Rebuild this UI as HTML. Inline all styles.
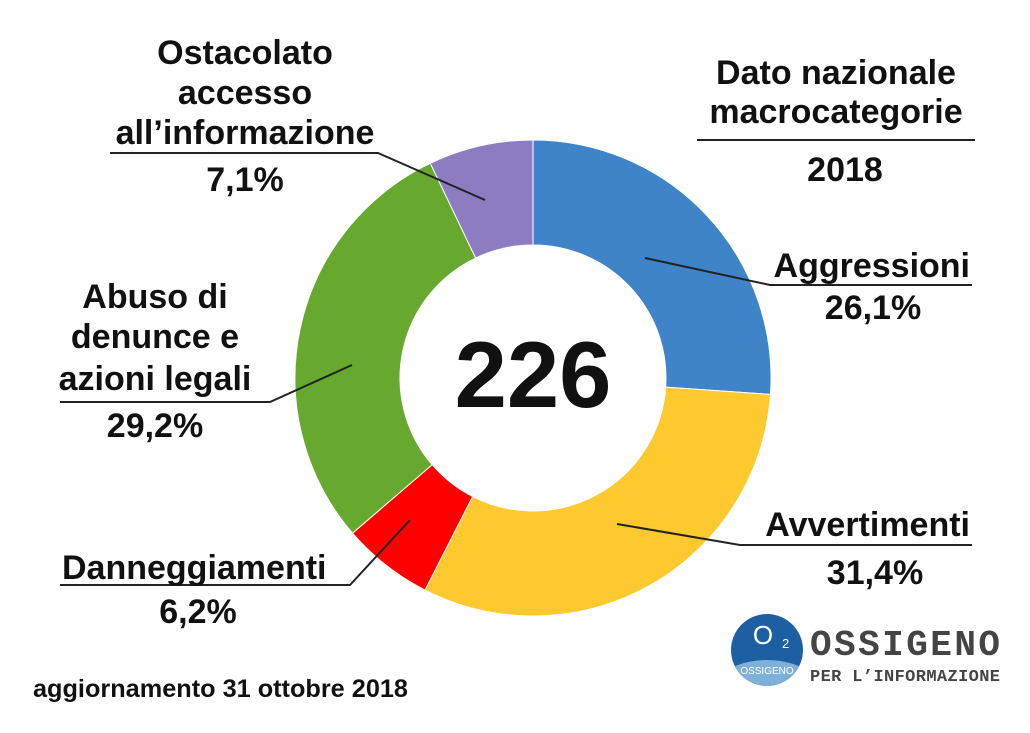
<!DOCTYPE html>
<html><head><meta charset="utf-8"><style>
html,body{margin:0;padding:0;background:#fff;}
svg text{font-family:"Liberation Sans",sans-serif;font-weight:bold;fill:#111;}
</style></head><body>
<svg width="1030" height="728" viewBox="0 0 1030 728">
<g id="slices"></g>
<text x="533" y="407" text-anchor="middle" font-size="94">226</text>
<g stroke="#222" stroke-width="2" fill="none">
<polyline points="645,258 770,285 972,285"/>
<polyline points="617,524 740,545 972,545"/>
<polyline points="410,520 350,585 60,585"/>
<polyline points="352,365 270,402 60,402"/>
<polyline points="485,200 378,153 110,153"/>
<line x1="697" y1="140" x2="975" y2="140"/>
</g>
<g font-size="34" text-anchor="middle">
<text x="836" y="84">Dato nazionale</text>
<text x="836" y="123">macrocategorie</text>
<text x="845" y="181">2018</text>
<text x="245" y="64">Ostacolato</text>
<text x="245" y="104">accesso</text>
<text x="245" y="144">all’informazione</text>
<text x="245" y="191">7,1%</text>
<text x="970" y="277" text-anchor="end">Aggressioni</text>
<text x="873" y="319">26,1%</text>
<text x="970" y="536" text-anchor="end">Avvertimenti</text>
<text x="875" y="584">31,4%</text>
<text x="62" y="579" text-anchor="start">Danneggiamenti</text>
<text x="198" y="623">6,2%</text>
<text x="155" y="308">Abuso di</text>
<text x="155" y="348">denunce e</text>
<text x="155" y="390">azioni legali</text>
<text x="155" y="437">29,2%</text>
</g>
<text x="33" y="697" font-size="25" textLength="375" lengthAdjust="spacingAndGlyphs">aggiornamento 31 ottobre 2018</text>
<g>
<clipPath id="lc"><circle cx="767" cy="650" r="36"/></clipPath>
<circle cx="767" cy="650" r="36" fill="#1d5fa3"/>
<ellipse cx="767" cy="700" rx="60" ry="40" fill="#7fb0da" clip-path="url(#lc)"/>
<text x="763" y="644" font-size="26" text-anchor="middle" style="fill:#fff;font-weight:normal">O</text>
<text x="782" y="648" font-size="13" style="fill:#fff;font-weight:normal">2</text>
<text x="767" y="674" font-size="10" text-anchor="middle" style="fill:#fff;font-weight:normal">OSSIGENO</text>
<text x="810" y="655" font-size="36" textLength="190" style="font-family:'Liberation Mono',monospace;fill:#444">OSSIGENO</text>
<text x="810" y="681" font-size="17" textLength="190" style="font-family:'Liberation Mono',monospace;fill:#444">PER L’INFORMAZIONE</text>
</g>
</svg>
<script>
const categories = ["Aggressioni","Avvertimenti","Danneggiamenti","Abuso di denunce e azioni legali","Ostacolato accesso all'informazione"];
const values = [26.1,31.4,6.2,29.2,7.1];
const colors = ["#3f84c8","#fec82f","#fe0000","#67a82e","#8e7cc3"];
const cx=533, cy=378, R=238, r=133;
const g=document.getElementById('slices');
const total=values.reduce((a,b)=>a+b,0);
let acc=0;
function pt(a,rad){return [cx+rad*Math.sin(a), cy-rad*Math.cos(a)];}
values.forEach((v,i)=>{
  const a0=acc/total*2*Math.PI; acc+=v; const a1=acc/total*2*Math.PI;
  const lg=(a1-a0)>Math.PI?1:0;
  const p0=pt(a0,R),p1=pt(a1,R),q1=pt(a1,r),q0=pt(a0,r);
  const p=document.createElementNS('http://www.w3.org/2000/svg','path');
  p.setAttribute('d',`M${p0}A${R},${R} 0 ${lg} 1 ${p1}L${q1}A${r},${r} 0 ${lg} 0 ${q0}Z`);
  p.setAttribute('fill',colors[i]);
  p.setAttribute('stroke','#fff');
  p.setAttribute('stroke-width','1');
  
  
  g.appendChild(p);
});
</script>
</body></html>
